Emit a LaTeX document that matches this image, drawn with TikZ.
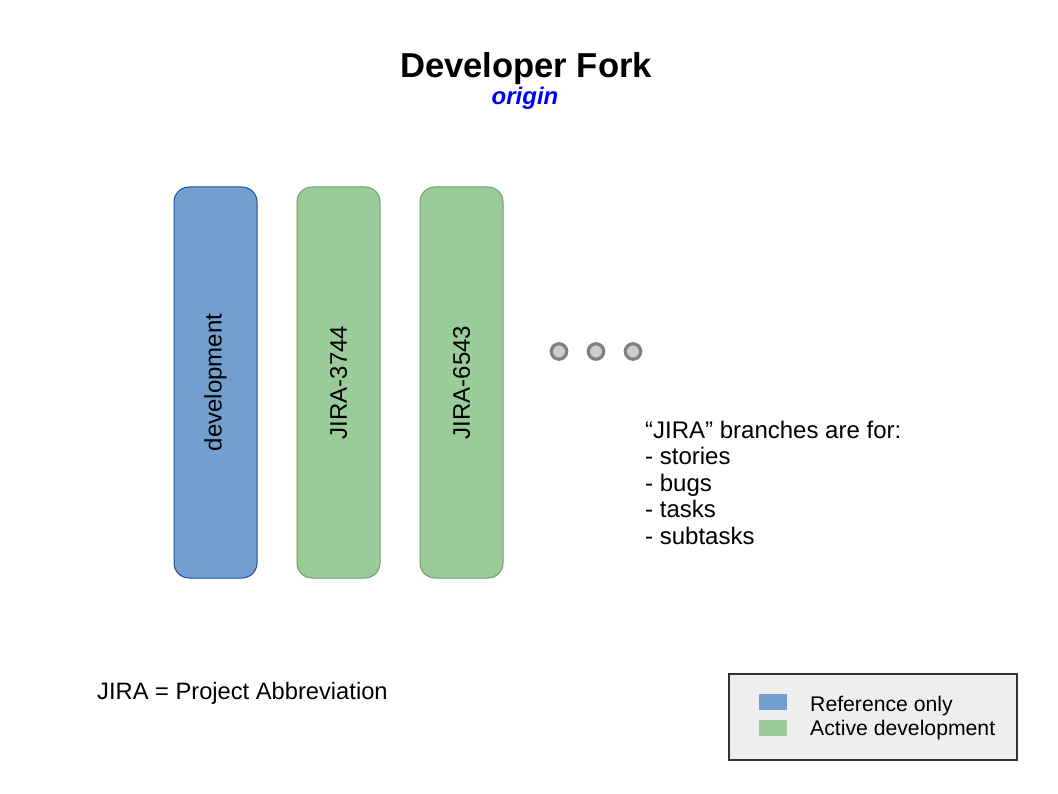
\documentclass[tikz,border=0pt]{standalone}
\usepackage{fontspec}
\setmainfont{Liberation Sans}
\definecolor{refblue}{HTML}{729FCF}
\definecolor{refblueB}{HTML}{1A5294}
\definecolor{actgreen}{HTML}{99CC99}
\definecolor{actgreenB}{HTML}{6A9F6A}
\definecolor{dotgray}{HTML}{808080}
\definecolor{dotfill}{HTML}{CCCCCC}
\definecolor{legfill}{HTML}{EEEEEE}
\definecolor{legdraw}{HTML}{333333}
\begin{document}
\begin{tikzpicture}[x=1pt,y=-1pt,
  bar/.style={rounded corners=15pt,line width=1pt},
  refbar/.style={bar,fill=refblue,draw=refblueB},
  actbar/.style={bar,fill=actgreen,draw=actgreenB},
  barlabel/.style={rotate=90,font=\fontsize{24}{28}\selectfont,inner sep=0pt},
  dot/.style={circle,draw=dotgray,fill=dotfill,line width=3.2pt,minimum size=15.5pt,inner sep=0pt},
  body/.style={anchor=base west,inner sep=0pt,font=\fontsize{24}{28}\selectfont},
  legtext/.style={anchor=base west,inner sep=0pt,font=\fontsize{21.2}{25}\selectfont}]
\useasboundingbox (0,0) rectangle (1058,794);
\fill[white] (0,0) rectangle (1058,794);
% title
\node[inner sep=0pt,anchor=base] (title) at (526,78) {\fontsize{34.6}{40}\selectfont\bfseries Developer Fork};
\node[inner sep=0pt,anchor=base,text=blue] (sub) at (525,105) {\fontsize{24}{28}\selectfont\bfseries\itshape origin};
% bars
\draw[refbar] (174,187) rectangle (257,578);
\node[barlabel] (dev) at (215.5,382.5) {development};
\draw[actbar] (297,187) rectangle (380,578);
\node[barlabel] (j1) at (338.5,382.5) {JIRA-3744};
\draw[actbar] (420,187) rectangle (503,578);
\node[barlabel] (j2) at (461.5,382.5) {JIRA-6543};
% dots
\node[dot] (d1) at (559,351.5) {};
\node[dot] (d2) at (596,351.5) {};
\node[dot] (d3) at (633,351.5) {};
% list
\node[body] (l1) at (645,438) {“JIRA” branches are for:};
\node[body] (l2) at (645,464.5) {- stories};
\node[body] (l3) at (645,491) {- bugs};
\node[body] (l4) at (645,517.5) {- tasks};
\node[body] (l5) at (645,544) {- subtasks};
% footnote
\node[body,font=\fontsize{23.7}{28}\selectfont] (abbr) at (97,699) {JIRA = Project Abbreviation};
% legend
\draw[fill=legfill,draw=legdraw,line width=1.5pt] (729,674) rectangle (1017,760);
\fill[refblue] (759,694) rectangle (787,710);
\fill[actgreen] (759,720) rectangle (787,736);
\node[legtext] (lg1) at (810,711) {Reference only};
\node[legtext] (lg2) at (810,735) {Active development};
\end{tikzpicture}
\end{document}
